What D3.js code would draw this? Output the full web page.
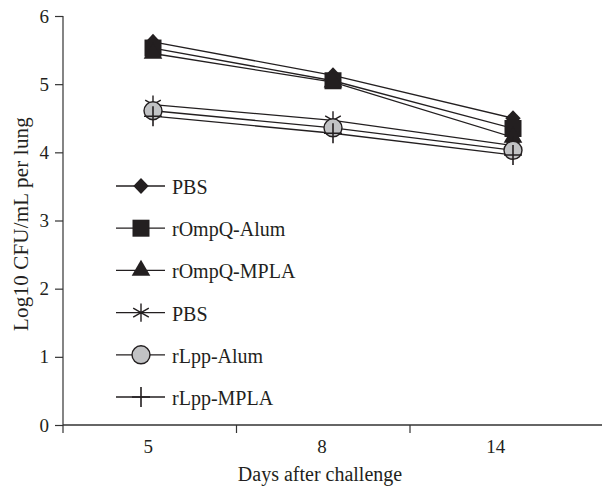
<!DOCTYPE html>
<html lang="en">
<head>
  <meta charset="UTF-8">
  <title>Log10 CFU per lung</title>
  <script src="https://d3js.org/d3.v7.min.js"></script>
  <style>
    body { margin: 0; background: #fff; }
    svg text { font-family: 'Liberation Serif', 'DejaVu Serif', serif; fill: #231f20; }
  </style>
</head>
<body>
  <div id="chart"></div>
  <script>
    // days on the x axis
    const days = ['5', '8', '14'];
    const seriesNames = ['PBS', 'rOmpQ-Alum', 'rOmpQ-MPLA', 'PBS', 'rLpp-Alum', 'rLpp-MPLA'];
    const seriesMarkers = ['diamond', 'square', 'triangle', 'star', 'circle', 'plus'];
    const ompqPbs = [5.62, 5.13, 4.50];
    const ompqAlum = [5.53, 5.05, 4.35];
    const ompqMpla = [5.45, 5.03, 4.22];
    const lppPbs = [4.70, 4.47, 4.10];
    const lppAlum = [4.61, 4.36, 4.03];
    const lppMpla = [4.53, 4.28, 3.96];
    const yTicks = [0, 1, 2, 3, 4, 5, 6];

    const allValues = [ompqPbs, ompqAlum, ompqMpla, lppPbs, lppAlum, lppMpla];

    const width = 602, height = 487;
    const svg = d3.select('#chart').append('svg')
      .attr('width', width).attr('height', height);

    const x = d3.scaleBand().domain(days).range([63, 584]);
    // points sit a bit right of the label centres in the original
    const xp = d3.scalePoint().domain(days).range([153, 513]);
    const y = d3.scaleLinear().domain([0, 6]).range([425, 16]);

    // y axis
    const yAxis = svg.append('g').attr('transform', 'translate(63,0)')
      .call(d3.axisLeft(y).tickValues(yTicks).tickFormat(d3.format('d')).tickSize(8).tickPadding(6));
    yAxis.select('.domain').attr('stroke', '#333').attr('stroke-width', 1.2).attr('d', 'M0,16V425');
    yAxis.selectAll('.tick line').attr('stroke', '#333').attr('stroke-width', 1.2);
    yAxis.selectAll('text').attr('font-size', 19).attr('fill', '#231f20');

    // x axis
    const xAxis = svg.append('g').attr('transform', 'translate(0,425)');
    xAxis.append('line').attr('x1', 63).attr('x2', 602)
      .attr('stroke', '#333').attr('stroke-width', 1.4);
    xAxis.selectAll('line.tk').data([63, 236.5, 410]).join('line')
      .attr('class', 'tk')
      .attr('x1', d => d).attr('x2', d => d).attr('y1', 0).attr('y2', 8)
      .attr('stroke', '#333').attr('stroke-width', 1.2);
    xAxis.selectAll('text').data(days).join('text')
      .attr('x', d => x(d) + x.bandwidth() / 2 - 1.5)
      .attr('y', 28)
      .attr('text-anchor', 'middle')
      .attr('font-size', 19)
      .text(d => d);

    svg.append('text')
      .attr('x', 320).attr('y', 481)
      .attr('text-anchor', 'middle').attr('font-size', 20)
      .text('Days after challenge');

    svg.append('text')
      .attr('transform', 'translate(28,224) rotate(-90)')
      .attr('text-anchor', 'middle').attr('font-size', 21)
      .attr('letter-spacing', 0.2)
      .text('Log10 CFU/mL per lung');

    function drawMarker(g, type) {
      const dark = '#231f20';
      if (type === 'diamond') {
        g.append('path').attr('d', d3.symbol(d3.symbolDiamond2, 150)())
          .attr('fill', dark).attr('transform', 'scale(1,1.05)');
      } else if (type === 'square') {
        g.append('rect').attr('x', -8.5).attr('y', -8.5).attr('width', 17).attr('height', 17).attr('fill', dark);
      } else if (type === 'triangle') {
        g.append('path').attr('d', d3.symbol(d3.symbolTriangle, 150)()).attr('fill', dark);
      } else if (type === 'star') {
        g.append('path').attr('d', d3.symbol(d3.symbolAsterisk, 230)())
          .attr('fill', 'none').attr('stroke', dark).attr('stroke-width', 1.4);
      } else if (type === 'circle') {
        g.append('circle').attr('r', 9).attr('fill', '#c1c2c4').attr('stroke', dark).attr('stroke-width', 1.4);
      } else if (type === 'plus') {
        g.append('path').attr('d', 'M-9,0H9M0,-10V10').attr('stroke', dark).attr('stroke-width', 1.6);
      }
    }

    const line = d3.line().x((d, i) => xp(days[i])).y(d => y(d));

    // lines first, markers on top
    allValues.forEach(vals => {
      svg.append('path').datum(vals).attr('d', line)
        .attr('fill', 'none').attr('stroke', '#231f20').attr('stroke-width', 1.3);
    });
    allValues.forEach((vals, s) => {
      vals.forEach((v, i) => {
        const g = svg.append('g').attr('transform', `translate(${xp(days[i])},${y(v)})`);
        drawMarker(g, seriesMarkers[s]);
      });
    });

    // legend
    const legend = svg.append('g');
    seriesNames.forEach((name, i) => {
      const ly = 186 + i * 42.2;
      legend.append('line').attr('x1', 116).attr('x2', 165).attr('y1', ly).attr('y2', ly)
        .attr('stroke', '#231f20').attr('stroke-width', 1.3);
      const g = legend.append('g').attr('transform', `translate(141,${ly})`);
      drawMarker(g, seriesMarkers[i]);
      legend.append('text').attr('x', 172).attr('y', ly + 8)
        .attr('font-size', 20).text(name);
    });
  </script>
</body>
</html>
